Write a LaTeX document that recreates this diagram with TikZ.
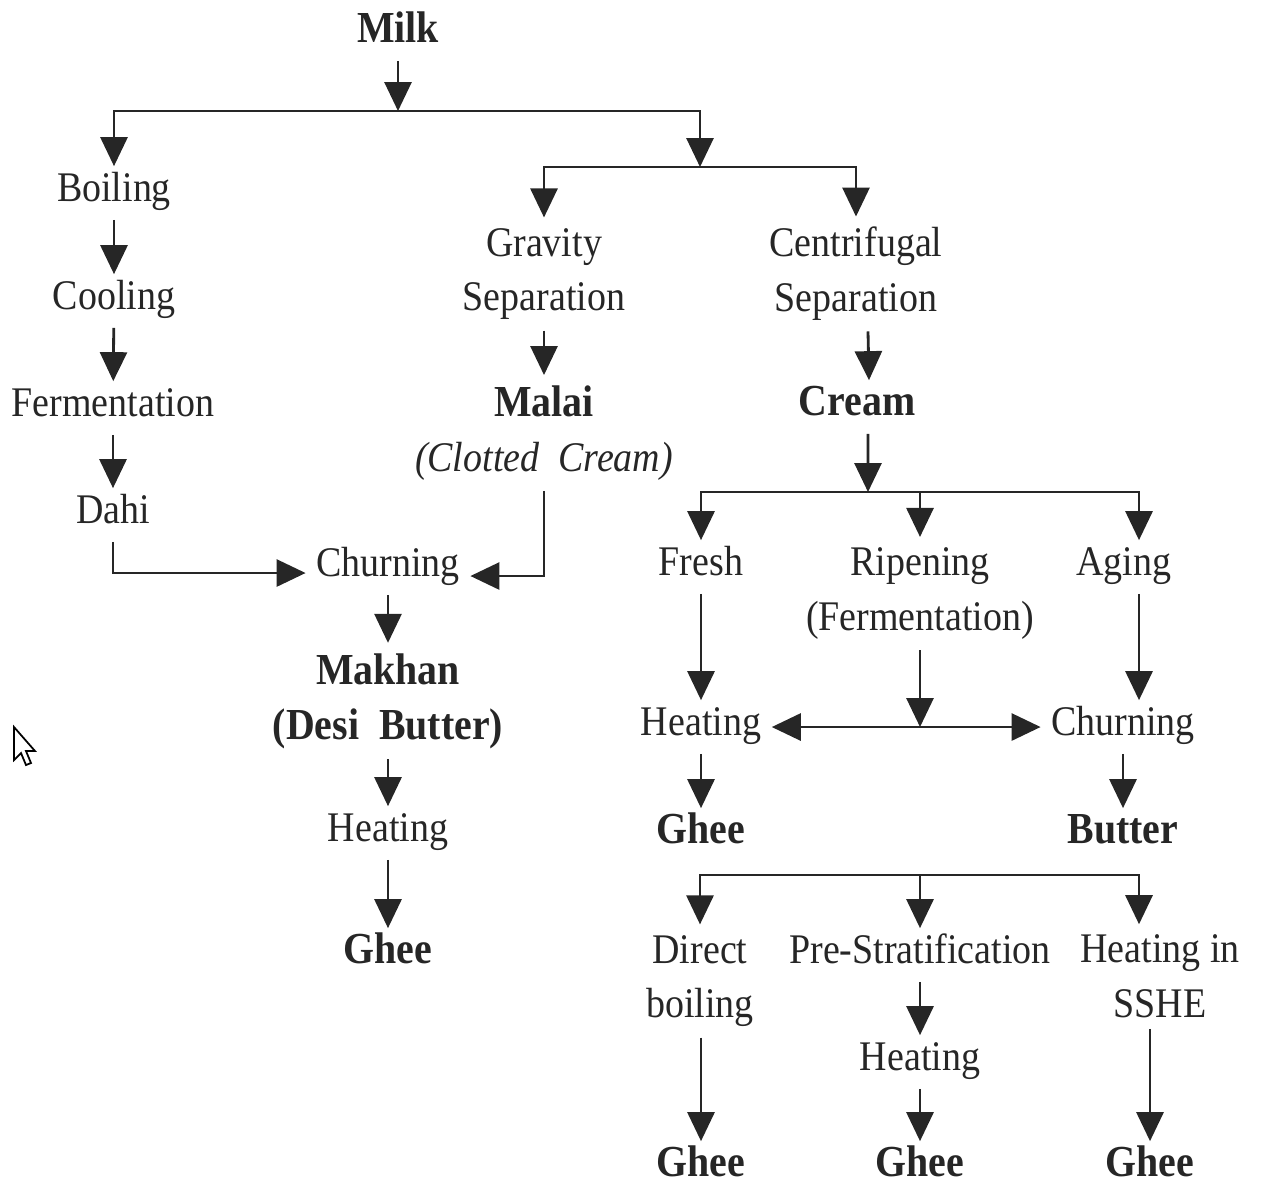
\documentclass[tikz,border=0pt]{standalone}
\usepackage{fontspec}
\setmainfont{Liberation Serif}[FakeStretch=0.9]
\usepackage{tikz}
\usetikzlibrary{arrows.meta,positioning,calc}
\tikzset{
  dairystep/.style={inner sep=1mm, align=center, text=black!85, font=\fontsize{12}{15.6}\selectfont},
  dairyone/.style={dairystep, text height=0.7em, text depth=0.22em},
  dairyprod/.style={dairyone, font=\fontsize{12.6}{15.6}\selectfont\bfseries},
  dairyarrow/.style={-{Triangle[length=2.9mm,width=2.7mm]}, line width=0.8pt, draw=black!85},
  dairydouble/.style={{Triangle[length=2.9mm,width=2.7mm]}-{Triangle[length=2.9mm,width=2.7mm]}, line width=0.8pt, draw=black!85},
  dairyline/.style={line width=0.8pt, draw=black!85}
}

\begin{document}
\begin{tikzpicture}
\useasboundingbox (0,0) rectangle (12.62,-11.82);
% traditional route
\node[dairyprod] (milk) at (3.98,-0.34) {Milk};
\node[dairyone] (boil) at (1.14,-1.93) {Boiling};
\node[dairyone] (cool) at (1.14,-3.01) {Cooling};
\node[dairyone] (ferm) at (1.13,-4.08) {Fermentation};
\node[dairyone] (dahi) at (1.13,-5.15) {Dahi};
\node[dairyone] (churnA) at (3.88,-5.68) {Churning};
\node[dairystep, font=\fontsize{12.6}{15.6}\selectfont\bfseries] (makhan) at (3.88,-7.01) {Makhan\\(Desi\ \ Butter)};
\node[dairyone] (heatA) at (3.88,-8.33) {Heating};
\node[dairyprod] (gheeA) at (3.88,-9.55) {Ghee};
% separation
\node[dairystep] (grav) at (5.44,-2.74) {Gravity\\Separation};
\node[dairystep] (cent) at (8.56,-2.74) {Centrifugal\\Separation};
\node[dairystep] (malai) at (5.44,-4.33) {{\fontsize{12.6}{15.6}\selectfont\textbf{Malai}}\\\textit{(Clotted\ \ Cream)}};
\node[dairyprod] (cream) at (8.57,-4.07) {Cream};
% cream treatment
\node[dairyone] (fresh) at (7.01,-5.67) {Fresh};
\node[dairystep] (ripe) at (9.20,-5.935) {Ripening\\(Fermentation)};
\node[dairyone] (aging) at (11.24,-5.67) {Aging};
\node[dairyone] (heatB) at (7.01,-7.27) {Heating};
\node[dairyone] (churnB) at (11.23,-7.27) {Churning};
\node[dairyprod] (gheeB) at (7.01,-8.35) {Ghee};
\node[dairyprod] (butter) at (11.23,-8.35) {Butter};
% industrial methods
\node[dairystep] (direct) at (7.00,-9.81) {Direct\\boiling};
\node[dairyone] (prestrat) at (9.20,-9.55) {Pre-Stratification};
\node[dairystep] (sshe) at (11.60,-9.765) {Heating in\\SSHE};
\node[dairyone] (heatC) at (9.20,-10.62) {Heating};
\node[dairyprod] (gheeC) at (7.01,-11.68) {Ghee};
\node[dairyprod] (gheeD) at (9.20,-11.68) {Ghee};
\node[dairyprod] (gheeE) at (11.50,-11.68) {Ghee};

\coordinate (b1) at (3.98,-1.11);
\coordinate (b2) at (7.00,-1.67);
\coordinate (b3) at (8.68,-4.92);
\coordinate (b4) at (9.20,-8.75);

\draw[dairyarrow] (milk) -- (b1);
\draw[dairyarrow] (b1) -| (boil);
\draw[dairyarrow] (b1) -| (b2);
\draw[dairyarrow] (boil) -- (cool);
\draw[dairyarrow] (cool) -- (ferm);
\draw[dairyarrow] (ferm) -- (dahi);
\draw[dairyarrow] (dahi) |- ([yshift=-0.5mm]churnA.west);
\draw[dairyarrow] (malai) |- ([yshift=-0.8mm]churnA.east);
\draw[dairyarrow] (churnA) -- (makhan);
\draw[dairyarrow] (makhan) -- (heatA);
\draw[dairyarrow] (heatA) -- (gheeA);

\draw[dairyarrow] (b2) -| (grav);
\draw[dairyarrow] (b2) -| (cent);
\draw[dairyarrow] (grav) -- (malai);
\draw[dairyarrow] ([xshift=1.2mm]cent.south) -- ([xshift=1.2mm]cream.north);
\draw[dairyarrow] ([xshift=1.1mm]cream.south) -- (b3);

\draw[dairyarrow] (b3) -| (fresh);
\draw[dairyarrow] (b3) -| (ripe);
\draw[dairyarrow] (b3) -| ([xshift=1.5mm]aging.north);
\draw[dairyarrow] (fresh) -- (heatB);
\draw[dairyarrow] ([xshift=1.5mm]aging.south) -- ([xshift=1.5mm]aging.south |- churnB.north);
\draw[dairydouble] (heatB) -- (churnB);
\draw[dairyarrow] (ripe) -- (ripe |- heatB);
\draw[dairyarrow] (heatB) -- (gheeB);
\draw[dairyarrow] (churnB) -- (butter);

\draw[dairyarrow] (b4) -| (direct);
\draw[dairyarrow] (b4) -- (prestrat);
\draw[dairyarrow] (b4) -| ([xshift=-2.1mm]sshe.north);
\draw[dairyarrow] (gheeC |- direct.south) -- (gheeC);
\draw[dairyarrow] (prestrat) -- (heatC);
\draw[dairyarrow] (heatC) -- (gheeD);
\draw[dairyarrow] (gheeE |- sshe.south) -- (gheeE);

% mouse pointer
\draw[line width=0.5pt, fill=white] (0.14,-7.27) -- (0.14,-7.60) -- (0.21,-7.53) -- (0.26,-7.65) -- (0.31,-7.63) -- (0.26,-7.51) -- (0.35,-7.51) -- cycle;
\end{tikzpicture}
\end{document}
